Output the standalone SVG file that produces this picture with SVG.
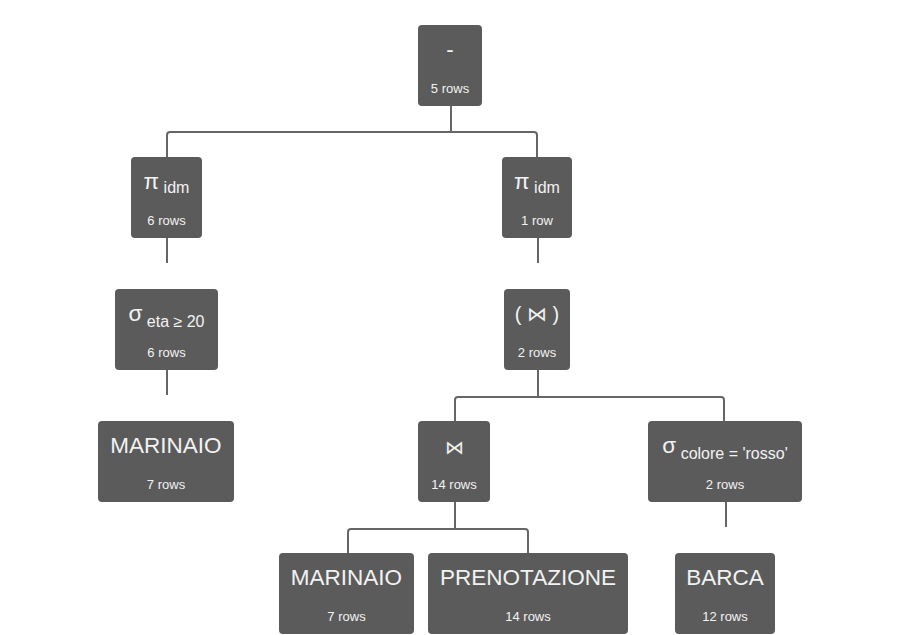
<svg xmlns="http://www.w3.org/2000/svg" width="901" height="635" viewBox="0 0 901 635">
<style>
.n{fill:#5b5b5b}
.t{font-family:"Liberation Sans",Arial,sans-serif;fill:#f2f2f2;text-anchor:middle}
.m{font-size:22.5px}
.s{font-size:16px}
.r{font-size:13px}
.c{fill:none;stroke:#666;stroke-width:2}
</style>
<rect width="901" height="635" fill="#fff"/>
<g id="connectors">
<path class="c" d="M451,106 V132 M167,157 V135 Q167,132 170,132 H534 Q537,132 537,135 V157"/>
<path class="c" d="M167,238 V263 M167,370 V395"/>
<path class="c" d="M538,238 V263"/>
<path class="c" d="M538,370 V397 M455,421 V400 Q455,397 458,397 H721 Q724,397 724,400 V421"/>
<path class="c" d="M455,502 V529 M348,553 V532 Q348,529 351,529 H525 Q528,529 528,532 V553"/>
<path class="c" d="M726,502 V527"/>
</g>
<g id="n-minus"><rect class="n" x="418" y="25" width="64" height="81" rx="4"/><text class="t m" x="450" y="57">-</text><text class="t r" x="450" y="93">5 rows</text></g>
<g id="n-pi1"><rect class="n" x="131" y="157" width="71" height="81" rx="4"/><text class="t" x="166.5" y="189"><tspan class="m">π</tspan><tspan class="s" dy="4"> idm</tspan></text><text class="t r" x="166.5" y="225">6 rows</text></g>
<g id="n-pi2"><rect class="n" x="502" y="157" width="70" height="81" rx="4"/><text class="t" x="537" y="189"><tspan class="m">π</tspan><tspan class="s" dy="4"> idm</tspan></text><text class="t r" x="537" y="225">1 row</text></g>
<g id="n-sigma1"><rect class="n" x="115" y="289" width="103" height="81" rx="4"/><text class="t" x="166.5" y="321"><tspan class="m">σ</tspan><tspan class="s" dy="6"> eta ≥ 20</tspan></text><text class="t r" x="166.5" y="357">6 rows</text></g>
<g id="n-semijoin"><rect class="n" x="504" y="289" width="66" height="81" rx="4"/><text class="t" x="537" y="321" font-size="20">( ⋈ )</text><text class="t r" x="537" y="357">2 rows</text></g>
<g id="n-marinaio1"><rect class="n" x="98" y="421" width="136" height="81" rx="4"/><text class="t m" x="166" y="453">MARINAIO</text><text class="t r" x="166" y="489">7 rows</text></g>
<g id="n-join"><rect class="n" x="418" y="421" width="72" height="81" rx="4"/><text class="t" x="454" y="454" font-size="19">⋈</text><text class="t r" x="454" y="489">14 rows</text></g>
<g id="n-sigma2"><rect class="n" x="648" y="421" width="154" height="81" rx="4"/><text class="t" x="725" y="453"><tspan class="m">σ</tspan><tspan class="s" dy="6"> colore = 'rosso'</tspan></text><text class="t r" x="725" y="489">2 rows</text></g>
<g id="n-marinaio2"><rect class="n" x="279" y="553" width="135" height="81" rx="4"/><text class="t m" x="346.5" y="585">MARINAIO</text><text class="t r" x="346.5" y="621">7 rows</text></g>
<g id="n-prenotazione"><rect class="n" x="428" y="553" width="200" height="81" rx="4"/><text class="t m" x="528" y="585">PRENOTAZIONE</text><text class="t r" x="528" y="621">14 rows</text></g>
<g id="n-barca"><rect class="n" x="675" y="553" width="100" height="81" rx="4"/><text class="t m" x="725" y="585">BARCA</text><text class="t r" x="725" y="621">12 rows</text></g>
</svg>
